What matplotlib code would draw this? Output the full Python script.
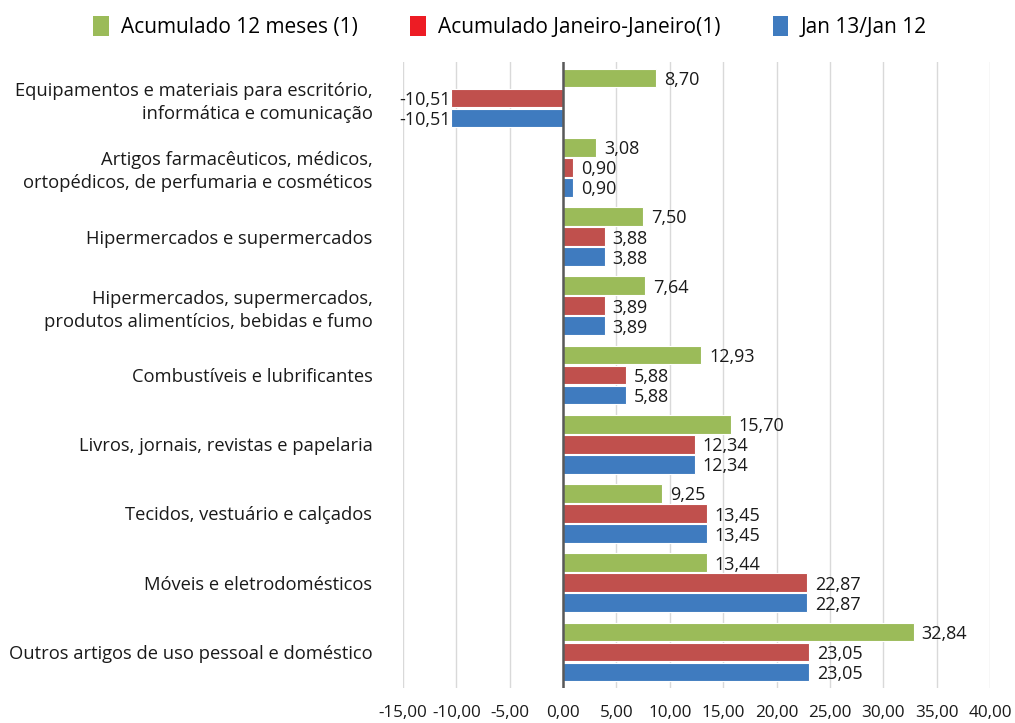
import matplotlib
matplotlib.use("Agg")
import matplotlib.pyplot as plt
import numpy as np
from matplotlib.patches import Patch

plt.rcParams['font.family'] = ['Open Sans', 'DejaVu Sans']

categories = [
    "Equipamentos e materiais para escritório,\ninformática e comunicação",
    "Artigos farmacêuticos, médicos,\nortopédicos, de perfumaria e cosméticos",
    "Hipermercados e supermercados",
    "Hipermercados, supermercados,\nprodutos alimentícios, bebidas e fumo",
    "Combustíveis e lubrificantes",
    "Livros, jornais, revistas e papelaria",
    "Tecidos, vestuário e calçados",
    "Móveis e eletrodomésticos",
    "Outros artigos de uso pessoal e doméstico",
]
acum12 = [8.70, 3.08, 7.50, 7.64, 12.93, 15.70, 9.25, 13.44, 32.84]
acum_jan = [-10.51, 0.90, 3.88, 3.89, 5.88, 12.34, 13.45, 22.87, 23.05]
jan13 = [-10.51, 0.90, 3.88, 3.89, 5.88, 12.34, 13.45, 22.87, 23.05]
series_names = ["Acumulado 12 meses (1)", "Acumulado Janeiro-Janeiro(1)", "Jan 13/Jan 12"]
xticks = [-15, -10, -5, 0, 5, 10, 15, 20, 25, 30, 35, 40]

colors = ["#9BBB59", "#C0504D", "#3F7BBF"]
legend_colors = ["#9BBB59", "#ED1C24", "#3F7BBF"]
txt_color = "#1A1A1A"

fig = plt.figure(figsize=(10.15, 7.23), dpi=100)
ax = fig.add_axes([403/1015, 1-688/723, (990-403)/1015, (688-62)/723])

y = np.arange(len(categories))
step = 0.29
h = 0.27
for k, vals in enumerate([acum12, acum_jan, jan13]):
    pos = y + (k - 1) * step
    ax.barh(pos, vals, height=h, color=colors[k], edgecolor="white", linewidth=0.8, zorder=3)
    for p, v in zip(pos, vals):
        txt = f"{v:.2f}".replace(".", ",")
        if v >= 0:
            ax.text(v + 0.75, p + 0.03, txt, ha="left", va="center", fontsize=13, color=txt_color, zorder=4)
        else:
            ax.text(v - 0.05, p + 0.03, txt, ha="right", va="center", fontsize=13, color=txt_color, zorder=4)

ax.set_xlim(-15, 40)
ax.set_ylim(8.52, -0.52)
ax.set_xticks(xticks)
ax.set_xticklabels([f"{t:.2f}".replace(".", ",") for t in xticks], fontsize=12.3, color=txt_color)
ax.set_yticks(y)
ax.set_yticklabels(categories, fontsize=13.2, color=txt_color, linespacing=1.35)
ax.tick_params(axis="x", length=0, pad=12)
ax.tick_params(axis="y", length=0, pad=22)
ax.grid(axis="x", color="#D9D9D9", linewidth=1, zorder=0)
for s in ax.spines.values():
    s.set_visible(False)
ax.axvline(0, color="#595959", linewidth=1.8, zorder=5)

handles = [Patch(facecolor=c) for c in legend_colors]
fig.legend(handles, series_names, loc="center", bbox_to_anchor=(510/1015, 1-27/723), ncol=3,
           frameon=False, fontsize=15, handlelength=0.75, handleheight=1.1, handletextpad=0.6,
           columnspacing=2.5)

fig.savefig("out.png", dpi=100)
